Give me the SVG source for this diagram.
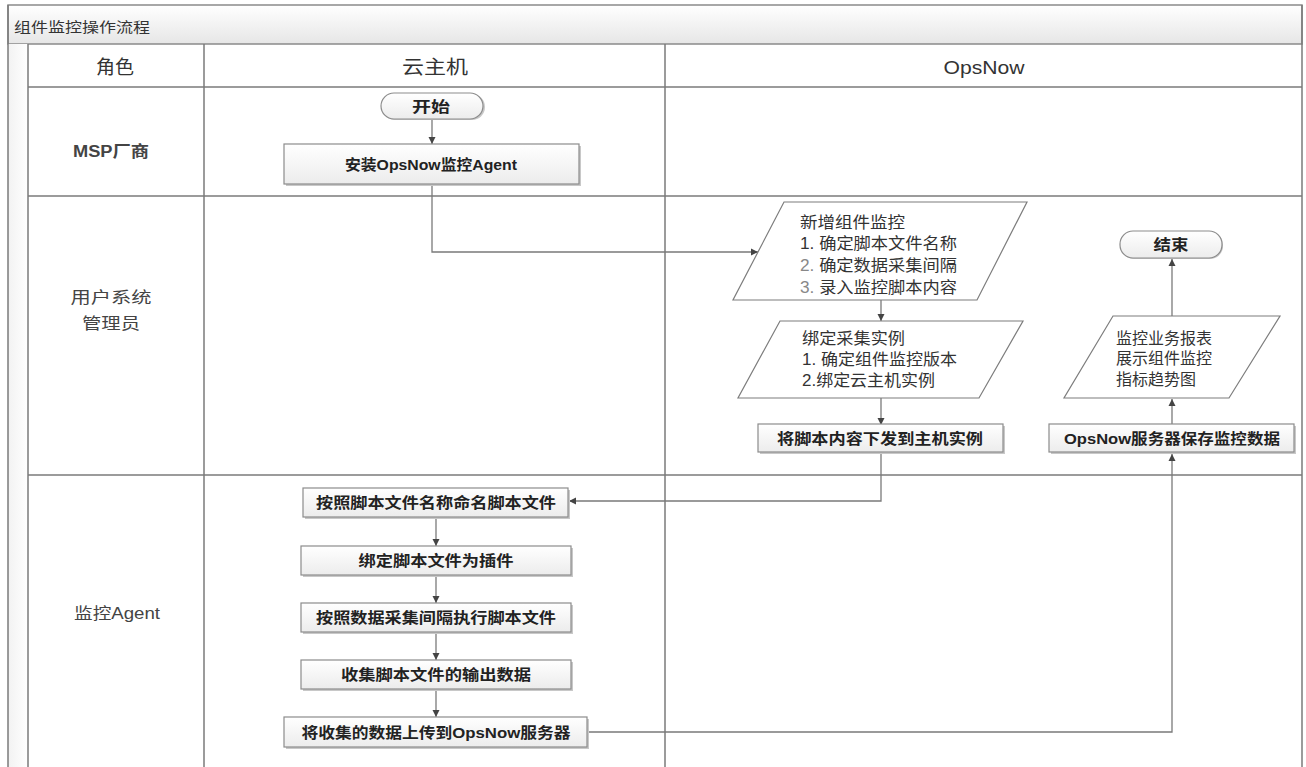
<svg xmlns="http://www.w3.org/2000/svg" width="1306" height="767" viewBox="0 0 1306 767">
<style>
.lane{stroke:#7a7a7a;stroke-width:1.5;fill:none}
.box{fill:url(#boxg);stroke:#8c8c8c;stroke-width:1.2}
.shadow{fill:#c8c8c8}
.para{fill:#fff;stroke:#7d7d7d;stroke-width:1.2}
.bt{font-family:"Liberation Sans","Noto Sans CJK SC",sans-serif;font-weight:700;font-size:15px;fill:#222;text-anchor:middle;dominant-baseline:central}
.pt{font-family:"Liberation Sans","Noto Sans CJK SC",sans-serif;font-size:16px;fill:#333;dominant-baseline:central}
.ht{font-family:"Liberation Sans","Noto Sans CJK SC",sans-serif;font-size:19px;fill:#333;text-anchor:middle;dominant-baseline:central}
.rt{font-family:"Liberation Sans","Noto Sans CJK SC",sans-serif;font-size:16px;fill:#444;text-anchor:middle;dominant-baseline:central}
.conn{stroke:#7a7a7a;stroke-width:1.3;fill:none;marker-end:url(#arr)}
</style>
<defs>
<linearGradient id="boxg" x1="0" y1="0" x2="0" y2="1">
<stop offset="0" stop-color="#ffffff"/>
<stop offset="1" stop-color="#ececec"/>
</linearGradient>
<linearGradient id="titleg" x1="0" y1="0" x2="0" y2="1">
<stop offset="0" stop-color="#ffffff"/>
<stop offset="1" stop-color="#e6e6e6"/>
</linearGradient>
<linearGradient id="stripg" x1="0" y1="0" x2="1" y2="0">
<stop offset="0" stop-color="#f2f2f2"/>
<stop offset="1" stop-color="#ffffff"/>
</linearGradient>
<marker id="arr" markerWidth="8" markerHeight="8" refX="7" refY="4" orient="auto" markerUnits="userSpaceOnUse">
<path d="M0,0.5 L7,4 L0,7.5 z" fill="#444"/>
</marker>
</defs>
<rect width="1306" height="767" fill="#fff"/>
<g id="pool">
<rect x="8" y="5" width="1294" height="39" fill="url(#titleg)" stroke="#8a8a8a" stroke-width="1.5"/>
<text x="14" y="27" font-family="'Liberation Serif','Noto Sans CJK SC',serif" font-size="14" fill="#333" dominant-baseline="central" textLength="136" lengthAdjust="spacingAndGlyphs">组件监控操作流程</text>
<rect x="8" y="44" width="20" height="723" fill="url(#stripg)"/>
<line class="lane" x1="8" y1="5" x2="8" y2="767"/>
<line class="lane" x1="28" y1="44" x2="28" y2="767"/>
<line class="lane" x1="204" y1="44" x2="204" y2="767"/>
<line class="lane" x1="665" y1="44" x2="665" y2="767"/>
<line class="lane" x1="1302" y1="5" x2="1302" y2="767"/>
<line class="lane" x1="28" y1="87" x2="1302" y2="87"/>
<line class="lane" x1="28" y1="196" x2="1302" y2="196"/>
<line class="lane" x1="28" y1="475" x2="1302" y2="475"/>
<text class="ht" x="115" y="67" textLength="38" lengthAdjust="spacingAndGlyphs">角色</text>
<text class="ht" x="435" y="67" font-size="20" textLength="66" lengthAdjust="spacingAndGlyphs">云主机</text>
<text class="ht" x="984" y="67" font-size="19" textLength="81" lengthAdjust="spacingAndGlyphs">OpsNow</text>
<text class="rt" x="111" y="151" font-weight="600" textLength="76" lengthAdjust="spacingAndGlyphs">MSP厂商</text>
<text class="rt" x="111" y="297" font-size="18" textLength="81" lengthAdjust="spacingAndGlyphs">用户系统</text>
<text class="rt" x="111" y="323" font-size="18" textLength="58" lengthAdjust="spacingAndGlyphs">管理员</text>
<text class="rt" x="117" y="613" textLength="86" lengthAdjust="spacingAndGlyphs">监控Agent</text>
</g>
<g id="connectors">
<path class="conn" d="M432,119 L432,144"/>
<path class="conn" d="M432,184 L432,252 L758,252"/>
<path class="conn" d="M881,300 L881,321"/>
<path class="conn" d="M881,398 L881,425"/>
<path class="conn" d="M881,453 L881,501 L569,501"/>
<path class="conn" d="M436,517 L436,546"/>
<path class="conn" d="M436,575 L436,603"/>
<path class="conn" d="M436,632 L436,660"/>
<path class="conn" d="M436,689 L436,717"/>
<path class="conn" d="M587,732 L1172,732 L1172,454"/>
<path class="conn" d="M1172,425 L1172,399"/>
<path class="conn" d="M1172,316 L1172,259"/>
</g>
<g id="start">
<rect x="382" y="94" width="103" height="26" rx="13" class="shadow"/>
<rect x="381" y="93" width="102" height="26" rx="13" class="box"/>
<text class="bt" x="431" y="106" textLength="38" lengthAdjust="spacingAndGlyphs">开始</text>
</g>
<g id="install">
<rect x="286" y="146" width="295" height="40" class="shadow"/>
<rect x="284" y="144" width="295" height="40" class="box"/>
<text class="bt" x="431" y="164" textLength="172" lengthAdjust="spacingAndGlyphs">安装OpsNow监控Agent</text>
</g>
<g id="add-monitor">
<polygon class="para" points="784,202 1027,202 977,300 733,300"/>
<text class="pt" x="800" y="222" textLength="105" lengthAdjust="spacingAndGlyphs">新增组件监控</text>
<text class="pt" x="800" y="243" textLength="157" lengthAdjust="spacingAndGlyphs">1. 确定脚本文件名称</text>
<text class="pt" x="800" y="265" textLength="157" lengthAdjust="spacingAndGlyphs"><tspan fill="#888">2.</tspan> 确定数据采集间隔</text>
<text class="pt" x="800" y="287" textLength="157" lengthAdjust="spacingAndGlyphs"><tspan fill="#888">3.</tspan> 录入监控脚本内容</text>
</g>
<g id="bind-instance">
<polygon class="para" points="780,321 1023,321 979,398 738,398"/>
<text class="pt" x="802" y="338" textLength="103" lengthAdjust="spacingAndGlyphs">绑定采集实例</text>
<text class="pt" x="802" y="359" textLength="155" lengthAdjust="spacingAndGlyphs">1. 确定组件监控版本</text>
<text class="pt" x="802" y="380" textLength="133" lengthAdjust="spacingAndGlyphs">2.绑定云主机实例</text>
</g>
<g id="dispatch">
<rect x="760" y="426" width="245" height="28" class="shadow"/>
<rect x="758" y="424" width="245" height="28" class="box"/>
<text class="bt" x="880" y="438" textLength="206" lengthAdjust="spacingAndGlyphs">将脚本内容下发到主机实例</text>
</g>
<g id="end">
<rect x="1121" y="232" width="102" height="27" rx="13" class="shadow"/>
<rect x="1120" y="231" width="102" height="27" rx="13" class="box"/>
<text class="bt" x="1171" y="244.5" textLength="35" lengthAdjust="spacingAndGlyphs">结束</text>
</g>
<g id="report">
<polygon class="para" points="1113,316 1280,316 1229,398 1064,398"/>
<text class="pt" x="1116" y="338" textLength="96" lengthAdjust="spacingAndGlyphs">监控业务报表</text>
<text class="pt" x="1116" y="358" textLength="96" lengthAdjust="spacingAndGlyphs">展示组件监控</text>
<text class="pt" x="1116" y="379" textLength="80" lengthAdjust="spacingAndGlyphs">指标趋势图</text>
</g>
<g id="save">
<rect x="1051" y="426" width="245" height="28" class="shadow"/>
<rect x="1049" y="424" width="245" height="28" class="box"/>
<text class="bt" x="1172" y="438" textLength="216" lengthAdjust="spacingAndGlyphs">OpsNow服务器保存监控数据</text>
</g>
<g id="rename">
<rect x="305" y="490" width="265" height="29" class="shadow"/>
<rect x="303" y="488" width="265" height="29" class="box"/>
<text class="bt" x="436" y="502.5" textLength="240" lengthAdjust="spacingAndGlyphs">按照脚本文件名称命名脚本文件</text>
</g>
<g id="plugin">
<rect x="303" y="548" width="270" height="29" class="shadow"/>
<rect x="301" y="546" width="270" height="29" class="box"/>
<text class="bt" x="436" y="560.5" textLength="155" lengthAdjust="spacingAndGlyphs">绑定脚本文件为插件</text>
</g>
<g id="execute">
<rect x="303" y="605" width="270" height="29" class="shadow"/>
<rect x="301" y="603" width="270" height="29" class="box"/>
<text class="bt" x="436" y="617.5" textLength="240" lengthAdjust="spacingAndGlyphs">按照数据采集间隔执行脚本文件</text>
</g>
<g id="collect">
<rect x="303" y="662" width="270" height="29" class="shadow"/>
<rect x="301" y="660" width="270" height="29" class="box"/>
<text class="bt" x="436" y="674.5" textLength="190" lengthAdjust="spacingAndGlyphs">收集脚本文件的输出数据</text>
</g>
<g id="upload">
<rect x="286" y="719" width="303" height="30" class="shadow"/>
<rect x="284" y="717" width="303" height="30" class="box"/>
<text class="bt" x="436" y="732" textLength="269" lengthAdjust="spacingAndGlyphs">将收集的数据上传到OpsNow服务器</text>
</g>
</svg>
